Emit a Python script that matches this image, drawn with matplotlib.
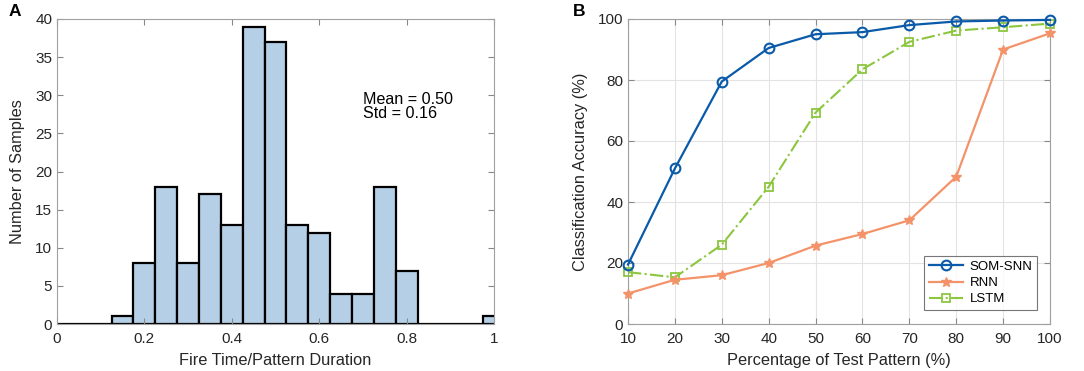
import numpy as np
import matplotlib
matplotlib.use("Agg")
import matplotlib.pyplot as plt

plt.rcParams['font.family'] = ['Liberation Sans', 'DejaVu Sans']

# panel A: histogram counts, bins centred on 0, 0.05, ..., 1.0
bin_centers = [0.00, 0.05, 0.10, 0.15, 0.20, 0.25, 0.30, 0.35, 0.40, 0.45, 0.50,
               0.55, 0.60, 0.65, 0.70, 0.75, 0.80, 0.85, 0.90, 0.95, 1.00]
counts = [0, 0, 0, 1, 8, 18, 8, 17, 13, 39, 37,
          13, 12, 4, 4, 18, 7, 0, 0, 0, 1]
bin_width = 0.05

# panel B: accuracy vs percentage of test pattern
pct = [10, 20, 30, 40, 50, 60, 70, 80, 90, 100]
som_snn = [19.5, 51.0, 79.5, 90.5, 95.0, 95.7, 98.0, 99.2, 99.5, 99.7]
rnn = [10.0, 14.5, 16.0, 20.0, 25.7, 29.5, 34.0, 48.3, 90.0, 95.3]
lstm = [17.0, 15.3, 26.0, 45.0, 69.3, 83.5, 92.5, 96.2, 97.3, 98.5]

axcol = '#262626'
spine = '#a0a0a0'

fig = plt.figure(figsize=(10.84, 3.71), dpi=100)
axA = fig.add_axes([57/1084, 1 - 324/371, (494-57)/1084, (324-19)/371])
axB = fig.add_axes([628/1084, 1 - 324/371, (1050-628)/1084, (324-19)/371])

# --- A ---
axA.bar(bin_centers, counts, width=bin_width, color='#b5cfe6',
        edgecolor='black', linewidth=1.6, clip_on=True)
axA.set_xlim(0, 1)
axA.set_ylim(0, 40)
axA.set_xticks([0, 0.2, 0.4, 0.6, 0.8, 1])
axA.set_xticklabels(['0', '0.2', '0.4', '0.6', '0.8', '1'])
axA.set_yticks(range(0, 41, 5))
axA.set_xlabel('Fire Time/Pattern Duration', fontsize=11.8, color=axcol,
               labelpad=5)
axA.set_ylabel('Number of Samples', fontsize=11.8, color=axcol, labelpad=7)
axA.text(0.70, 30.4, 'Mean = 0.50\nStd = 0.16', fontsize=11.6,
         va='top', ha='left', linespacing=0.9)
axA.text(-0.11, 1.0, 'A', transform=axA.transAxes, fontsize=12.5,
         fontweight='bold', va='bottom', ha='left')

# --- B ---
axB.plot(pct, som_snn, '-o', color='#0a5aaa', lw=1.6, ms=7, mfc='none',
         mew=1.5, label='SOM-SNN', clip_on=False, zorder=5)
axB.plot(pct, rnn, '-*', color='#f4936a', lw=1.6, ms=7, mew=1.0,
         label='RNN', clip_on=False, zorder=4)
axB.plot(pct, lstm, '-.s', color='#8cc63f', lw=1.5, ms=6, mfc='none',
         mew=1.3, label='LSTM', clip_on=False, zorder=3)
axB.set_xlim(10, 100)
axB.set_ylim(0, 100)
axB.set_xticks(pct)
axB.set_yticks(range(0, 101, 20))
axB.grid(True, color='#e3e3e3', lw=0.8)
axB.set_axisbelow(True)
axB.set_xlabel('Percentage of Test Pattern (%)', fontsize=11.8, color=axcol,
               labelpad=5)
axB.set_ylabel('Classification Accuracy (%)', fontsize=11.8, color=axcol,
               labelpad=7)
leg = axB.legend(loc='lower right', fontsize=9.5, frameon=True, fancybox=False,
                 edgecolor='#555555', handlelength=2.6, borderpad=0.35,
                 labelspacing=0.3, handletextpad=0.5, borderaxespad=0,
                 bbox_to_anchor=(0.969, 0.046))
leg.get_frame().set_linewidth(0.8)
axB.text(-0.13, 1.0, 'B', transform=axB.transAxes, fontsize=12.5,
         fontweight='bold', va='bottom', ha='left')

for ax in (axA, axB):
    for s in ax.spines.values():
        s.set_color(spine)
        s.set_linewidth(0.8)
    ax.tick_params(direction='in', length=4, width=0.8, color='#888888',
                   labelcolor=axcol, labelsize=11, top=True, right=True)
    ax.tick_params(axis='x', pad=6)

fig.savefig('out.png', dpi=100)
